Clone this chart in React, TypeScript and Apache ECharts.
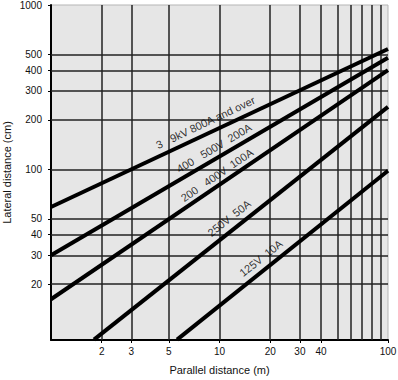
import React, { useEffect, useRef } from "react";
import * as echarts from "echarts";

// Axis tick labels and grid positions
const xTickValues = [2, 3, 5, 10, 20, 30, 40, 100];
const xGridValues = [2, 3, 5, 10, 20, 30, 40, 50, 60, 70, 80, 90];
const yTickValues = [20, 30, 40, 50, 100, 200, 300, 400, 500, 1000];
const yGridValues = [20, 30, 40, 50, 100, 200, 300, 400, 500];

// Lines: [parallel distance (m), lateral distance (cm)]
const line3to9kV = [[1, 59], [100, 540]];
const line400to500V = [[1, 30], [100, 478]];
const line200to400V = [[1, 16.2], [100, 402]];
const line250V = [[1.8, 9.2], [100, 240]];
const line125V = [[5.6, 9.2], [100, 98]];

const lineTexts = [
  "3   9kV 800A and over",
  "400   500V  200A",
  "200   400V  100A",
  "250V  50A",
  "125V  10A",
];

// label anchors (layout), in data coordinates, and rotation
const labelLayout = [
  { at: [8.26, 192.7], rotate: 25.3 },
  { at: [9.28, 134.8], rotate: 30.7 },
  { at: [9.66, 92.3], rotate: 34.4 },
  { at: [11.4, 50.5], rotate: 38.4 },
  { at: [17.6, 28.8], rotate: 38.7 },
];

const FONT = "'Liberation Sans', Arial, Helvetica, sans-serif";

export default function App() {
  const ref = useRef<HTMLDivElement>(null);
  useEffect(() => {
    if (!ref.current) return;
    const chart = echarts.init(ref.current, null, { renderer: "svg" });
    const lines = [line3to9kV, line400to500V, line200to400V, line250V, line125V];
    const lineSeries = lines.map((d, i) => ({
      type: "line",
      name: lineTexts[i],
      data: d,
      showSymbol: false,
      symbol: "none",
      clip: true,
      z: 5,
      lineStyle: { color: "#000", width: 4, cap: "butt" },
      silent: true,
    }));
    chart.setOption({
      animation: false,
      grid: {
        left: 51,
        right: 10,
        top: 5,
        bottom: 40,
        containLabel: false,
        outerBoundsMode: "none",
        show: true,
        backgroundColor: "#e6e6e6",
        borderColor: "#b5b5b5",
        borderWidth: 1,
      },
      xAxis: {
        type: "log",
        logBase: 10,
        min: 1,
        max: 100,
        name: "Parallel distance (m)",
        nameLocation: "middle",
        nameGap: 24,
        nameMoveOverlap: false,
        nameTextStyle: { color: "#111", fontSize: 11, fontFamily: FONT },
        axisLine: { show: true, lineStyle: { color: "#000", width: 2 } },
        axisTick: { show: true, length: 3, customValues: xTickValues, lineStyle: { color: "#000" } },
        axisLabel: {
          customValues: xTickValues,
          formatter: (v: number) => String(Math.round(v)),
          color: "#111",
          fontSize: 10,
          fontFamily: FONT,
          margin: 6,
        },
        splitLine: { show: false },
        minorSplitLine: { show: false },
      },
      yAxis: {
        type: "log",
        logBase: 10,
        min: 9.15,
        max: 1000,
        name: "Lateral distance (cm)",
        nameLocation: "middle",
        nameGap: 39,
        nameMoveOverlap: false,
        nameTextStyle: { color: "#111", fontSize: 11, fontFamily: FONT },
        axisLine: { show: true, lineStyle: { color: "#000", width: 2 } },
        axisTick: { show: true, length: 3, customValues: yTickValues, lineStyle: { color: "#000" } },
        axisLabel: {
          customValues: yTickValues,
          formatter: (v: number) => String(Math.round(v)),
          color: "#111",
          fontSize: 10,
          fontFamily: FONT,
          margin: 9,
        },
        splitLine: { show: false },
        minorSplitLine: { show: false },
      },
      series: [
        {
          type: "line",
          data: [],
          z: 1,
          silent: true,
          markLine: {
            silent: true,
            symbol: ["none", "none"],
            label: { show: false },
            animation: false,
            lineStyle: { color: "#222", width: 1.5, type: "solid" },
            data: [
              ...xGridValues.map((v) => ({ xAxis: v })),
              ...yGridValues.map((v) => ({ yAxis: v })),
            ],
          },
        },
        ...lineSeries,
        {
          type: "scatter",
          symbolSize: 0,
          silent: true,
          z: 6,
          data: labelLayout.map((l, i) => ({
            value: l.at,
            label: {
              show: true,
              position: "inside",
              formatter: lineTexts[i],
              rotate: l.rotate,
              color: "#000",
              fontSize: 11,
              fontFamily: FONT,
              align: "center",
              verticalAlign: "middle",
            },
          })),
        },
      ],
    });
    return () => chart.dispose();
  }, []);
  return <div ref={ref} style={{ width: 398, height: 380, position: "absolute", left: 0, top: 0 }} />;
}
